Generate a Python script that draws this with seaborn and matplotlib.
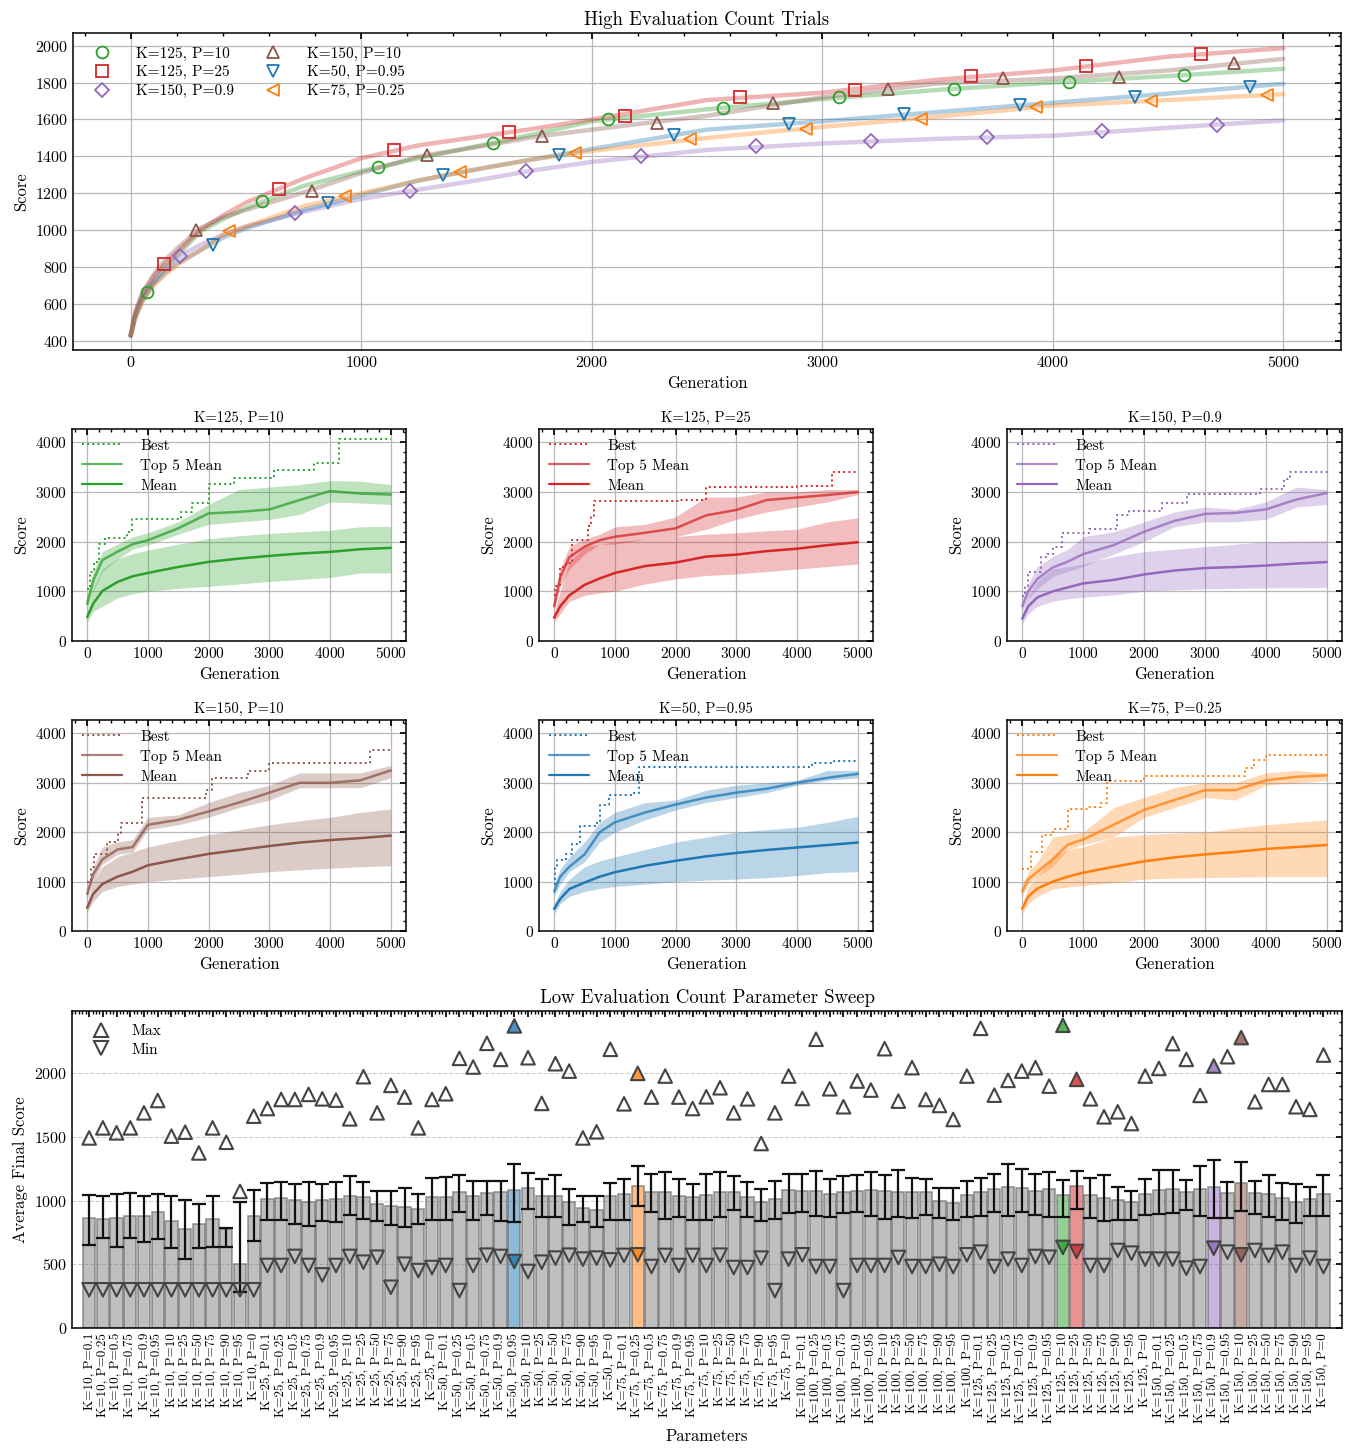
import matplotlib
matplotlib.use("Agg")
import matplotlib.pyplot as plt
import seaborn as sns
from matplotlib.ticker import AutoMinorLocator, MultipleLocator
from matplotlib.colors import to_rgba
from matplotlib.lines import Line2D

# ---------------- six long runs (shared by top panel and the small panels) ----------------
trial_names = ["K=125, P=10", "K=125, P=25", "K=150, P=0.9", "K=150, P=10", "K=50, P=0.95", "K=75, P=0.25"]
trial_colors = ["#2ca02c", "#d62728", "#9467bd", "#8c564b", "#1f77b4", "#ff7f0e"]
trial_markers = ["o", "s", "D", "^", "v", "<"]

# top panel: mean score
gen_grid = [0, 20, 50, 100, 150, 200, 300, 400, 500, 750, 1000, 1250, 1500, 1750, 2000, 2500, 3000, 3500, 4000, 4500, 5000]
curve_k125_p10 = [430, 545, 640, 720, 800, 860, 990, 1060, 1120, 1240, 1320, 1390, 1455, 1520, 1590, 1655, 1710, 1760, 1800, 1835, 1874]
curve_k125_p25 = [430, 550, 650, 750, 820, 880, 1000, 1080, 1150, 1280, 1390, 1460, 1505, 1550, 1600, 1705, 1745, 1815, 1865, 1940, 1986]
curve_k150_p09 = [430, 530, 620, 720, 790, 850, 920, 975, 1020, 1100, 1170, 1220, 1270, 1325, 1370, 1435, 1470, 1495, 1512, 1555, 1595]
curve_k150_p10 = [430, 560, 660, 760, 840, 900, 1010, 1070, 1110, 1205, 1310, 1400, 1450, 1505, 1545, 1620, 1720, 1795, 1822, 1865, 1928]
curve_k50_p095 = [430, 530, 620, 710, 770, 820, 890, 960, 1010, 1110, 1190, 1270, 1330, 1385, 1440, 1545, 1590, 1640, 1690, 1740, 1793]
curve_k75_p025 = [430, 525, 610, 700, 760, 810, 890, 975, 1020, 1130, 1200, 1270, 1330, 1385, 1430, 1500, 1560, 1615, 1675, 1705, 1737]

mark_gen_k125_p10 = [71, 571, 1071, 1571, 2071, 2571, 3071, 3571, 4071, 4571]
mark_val_k125_p10 = [667, 1157, 1340, 1470, 1604, 1661, 1719, 1766, 1805, 1840]
mark_gen_k125_p25 = [143, 643, 1143, 1643, 2143, 2643, 3143, 3643, 4143, 4643]
mark_val_k125_p25 = [820, 1225, 1436, 1531, 1620, 1724, 1760, 1836, 1890, 1955]
mark_gen_k150_p09 = [213, 713, 1213, 1713, 2213, 2713, 3213, 3713, 4213, 4713]
mark_val_k150_p09 = [863, 1094, 1214, 1319, 1400, 1458, 1485, 1503, 1535, 1571]
mark_gen_k150_p10 = [285, 785, 1285, 1785, 2285, 2785, 3285, 3785, 4285, 4785]
mark_val_k150_p10 = [1004, 1214, 1405, 1508, 1580, 1688, 1764, 1823, 1829, 1908]
mark_gen_k50_p095 = [356, 856, 1356, 1856, 2356, 2856, 3356, 3856, 4356, 4856]
mark_val_k50_p095 = [922, 1148, 1301, 1409, 1517, 1577, 1627, 1679, 1721, 1773]
mark_gen_k75_p025 = [428, 928, 1428, 1928, 2428, 2928, 3428, 3928, 4428, 4928]
mark_val_k75_p025 = [995, 1187, 1313, 1418, 1494, 1548, 1604, 1670, 1701, 1733]

top_curves = [curve_k125_p10, curve_k125_p25, curve_k150_p09, curve_k150_p10, curve_k50_p095, curve_k75_p025]
top_mark_gens = [mark_gen_k125_p10, mark_gen_k125_p25, mark_gen_k150_p09, mark_gen_k150_p10, mark_gen_k50_p095, mark_gen_k75_p025]
top_mark_vals = [mark_val_k125_p10, mark_val_k125_p25, mark_val_k150_p09, mark_val_k150_p10, mark_val_k50_p095, mark_val_k75_p025]

# small panels: best (step), top-5 mean and mean with their spread
panel_gen = [0, 100, 250, 500, 750, 1000, 1500, 2000, 2500, 3000, 3500, 4000, 4500, 5000]
best_gens = [
    [0, 50, 110, 190, 300, 650, 740, 1550, 1730, 2000, 2420, 3070, 3730, 4140, 5000],
    [0, 20, 100, 200, 300, 550, 600, 660, 2050, 2500, 4000, 4580, 5000],
    [0, 50, 100, 300, 400, 500, 650, 1100, 1550, 1750, 2300, 2700, 3900, 4300, 4400, 5000],
    [0, 60, 120, 330, 500, 550, 900, 1950, 2050, 2650, 3000, 4650, 5000],
    [0, 20, 50, 200, 300, 420, 700, 750, 900, 1300, 1400, 4250, 4600, 5000],
    [0, 100, 150, 330, 500, 750, 1100, 1300, 1400, 2000, 3650, 3800, 4000, 5000],
]
best_vals = [
    [1050, 1390, 1590, 1960, 2080, 2200, 2450, 2600, 2770, 3160, 3290, 3440, 3590, 4070, 4070],
    [920, 1100, 1490, 1570, 2030, 2310, 2500, 2820, 2850, 3110, 3130, 3410, 3410],
    [900, 1100, 1390, 1690, 1760, 1900, 2180, 2250, 2530, 2620, 2780, 2960, 3060, 3260, 3400, 3420],
    [1000, 1300, 1560, 1800, 1960, 2180, 2700, 2850, 3090, 3230, 3390, 3660, 3660],
    [950, 1300, 1430, 1550, 1760, 2120, 2200, 2550, 2750, 2800, 3310, 3390, 3440, 3440],
    [1250, 1300, 1590, 1950, 2060, 2460, 2500, 2600, 3030, 3130, 3300, 3460, 3560, 3560],
]
top5_mean = [
    [750, 1220, 1630, 1800, 1950, 2030, 2270, 2570, 2600, 2650, 2840, 3020, 2970, 2950],
    [700, 1290, 1690, 1900, 2030, 2100, 2180, 2270, 2530, 2640, 2840, 2890, 2940, 3000],
    [700, 1000, 1250, 1480, 1600, 1750, 1930, 2200, 2420, 2560, 2580, 2650, 2850, 2980],
    [750, 1150, 1450, 1650, 1700, 2150, 2250, 2420, 2600, 2800, 3000, 3000, 3050, 3250],
    [800, 1100, 1300, 1550, 2000, 2200, 2400, 2560, 2700, 2800, 2880, 3000, 3100, 3180],
    [800, 1050, 1200, 1450, 1750, 1850, 2150, 2450, 2650, 2850, 2850, 3050, 3120, 3150],
]
top5_low = [
    [650, 1000, 1400, 1650, 1850, 1930, 2150, 2350, 2400, 2450, 2550, 2800, 2780, 2750],
    [600, 1100, 1450, 1750, 1950, 1950, 2050, 2100, 2250, 2450, 2600, 2700, 2800, 2950],
    [600, 850, 1050, 1300, 1400, 1500, 1750, 2000, 2300, 2400, 2400, 2450, 2700, 2750],
    [650, 1000, 1350, 1550, 1600, 2050, 2150, 2300, 2500, 2650, 2900, 2900, 2900, 3100],
    [700, 950, 1200, 1400, 1800, 2000, 2250, 2450, 2600, 2700, 2800, 2950, 3050, 3100],
    [700, 950, 1100, 1300, 1650, 1750, 1900, 2300, 2500, 2700, 2650, 2950, 3000, 3050],
]
top5_high = [
    [900, 1400, 1800, 1950, 2100, 2180, 2400, 2750, 3050, 3100, 3150, 3230, 3220, 3150],
    [850, 1450, 1900, 2050, 2150, 2300, 2350, 2500, 2900, 2900, 3000, 3000, 3050, 3050],
    [850, 1150, 1500, 1700, 1850, 2100, 2200, 2400, 2600, 2700, 2650, 2800, 3100, 3050],
    [900, 1300, 1700, 1800, 1850, 2300, 2350, 2600, 2800, 2950, 3200, 3200, 3200, 3350],
    [950, 1250, 1500, 1800, 2200, 2400, 2600, 2650, 2850, 2950, 3000, 3050, 3250, 3250],
    [950, 1200, 1400, 1900, 1950, 2000, 2500, 2700, 2900, 3000, 3000, 3200, 3250, 3200],
]
pop_mean = [
    [484, 753, 1008, 1190, 1304, 1371, 1492, 1593, 1660, 1714, 1761, 1795, 1849, 1876],
    [470, 700, 920, 1130, 1260, 1370, 1510, 1580, 1700, 1740, 1810, 1860, 1930, 1990],
    [450, 700, 880, 1000, 1080, 1160, 1230, 1340, 1420, 1470, 1490, 1520, 1560, 1590],
    [470, 750, 950, 1100, 1200, 1330, 1450, 1560, 1640, 1720, 1790, 1840, 1880, 1930],
    [450, 650, 850, 980, 1100, 1190, 1320, 1420, 1510, 1580, 1640, 1690, 1740, 1790],
    [450, 700, 860, 1000, 1100, 1180, 1300, 1410, 1490, 1550, 1600, 1660, 1700, 1740],
]
pop_low = [
    [380, 600, 700, 870, 950, 1000, 1060, 1100, 1150, 1200, 1240, 1280, 1370, 1370],
    [380, 550, 800, 920, 970, 1000, 1150, 1250, 1320, 1350, 1400, 1450, 1500, 1550],
    [350, 550, 700, 800, 850, 880, 930, 1000, 1030, 1050, 1060, 1070, 1075, 1080],
    [380, 600, 800, 900, 950, 1000, 1050, 1100, 1150, 1200, 1240, 1270, 1300, 1320],
    [350, 550, 700, 800, 860, 900, 950, 1000, 1030, 1050, 1080, 1120, 1180, 1200],
    [350, 550, 700, 850, 890, 920, 980, 1050, 1070, 1080, 1090, 1100, 1100, 1100],
]
pop_high = [
    [600, 1050, 1450, 1660, 1760, 1830, 1950, 2060, 2120, 2165, 2200, 2230, 2300, 2310],
    [560, 1000, 1600, 1900, 1950, 2000, 2050, 2100, 2150, 2180, 2220, 2250, 2400, 2480],
    [550, 900, 1200, 1450, 1500, 1550, 1700, 1800, 1850, 1900, 1950, 2000, 2010, 2020],
    [580, 1000, 1300, 1500, 1600, 1700, 1830, 1950, 2050, 2150, 2230, 2300, 2400, 2470],
    [550, 800, 1050, 1300, 1420, 1500, 1650, 1800, 1900, 2000, 2050, 2100, 2200, 2320],
    [550, 900, 1100, 1500, 1650, 1700, 1900, 1950, 1980, 2000, 2080, 2150, 2200, 2250],
]

# ---------------- low evaluation count sweep ----------------
sweep_k = [10, 25, 50, 75, 100, 125, 150]
sweep_p = ["0.1", "0.25", "0.5", "0.75", "0.9", "0.95", "10", "25", "50", "75", "90", "95", "0"]
sweep_mean = [861, 853, 861, 882, 877, 911, 837, 780, 816, 853, 780, 501, 882,
              1016, 1021, 1008, 992, 1008, 1016, 1034, 1026, 974, 961, 950, 934, 1026,
              1031, 1068, 1034, 1060, 1066, 1084, 1100, 1034, 1034, 990, 942, 927, 1034,
              1055, 1113, 1068, 1068, 1034, 1026, 1047, 1068, 1068, 1029, 990, 1010, 1081,
              1076, 1079, 1050, 1068, 1079, 1084, 1073, 1071, 1071, 1066, 1000, 982, 1047,
              1071, 1092, 1110, 1097, 1073, 1092, 1047, 1113, 1042, 1024, 1003, 990, 1055,
              1087, 1094, 1066, 1089, 1105, 1060, 1139, 1060, 1055, 1018, 992, 1013, 1055]
sweep_err_low = [654, 706, 640, 709, 675, 703, 627, 541, 630, 638, 640, 286, 682,
                 850, 850, 819, 798, 837, 829, 890, 858, 837, 808, 793, 819, 850,
                 845, 908, 845, 890, 837, 832, 932, 871, 871, 808, 832, 795, 850,
                 850, 955, 911, 858, 871, 850, 850, 871, 924, 871, 843, 858, 903,
                 911, 882, 871, 900, 913, 877, 856, 871, 866, 890, 864, 845, 871,
                 882, 913, 877, 911, 885, 874, 869, 937, 864, 837, 850, 850, 890,
                 892, 900, 924, 877, 864, 864, 916, 895, 871, 850, 822, 882, 882]
sweep_err_high = [1047, 1034, 1052, 1060, 1039, 1052, 1034, 1005, 976, 1039, 785, 987, 1084,
                  1139, 1147, 1131, 1144, 1131, 1147, 1192, 1150, 1079, 1079, 1097, 1055, 1181,
                  1186, 1202, 1152, 1157, 1152, 1286, 1215, 1171, 1202, 1092, 1037, 1037, 1139,
                  1173, 1270, 1213, 1223, 1173, 1134, 1207, 1223, 1192, 1147, 1094, 1157, 1207,
                  1207, 1236, 1171, 1192, 1205, 1223, 1199, 1241, 1176, 1173, 1100, 1097, 1152,
                  1181, 1213, 1289, 1247, 1213, 1228, 1165, 1236, 1181, 1202, 1105, 1079, 1173,
                  1241, 1244, 1165, 1270, 1320, 1150, 1304, 1152, 1202, 1136, 1134, 1105, 1202]
sweep_max = [1493, 1572, 1533, 1572, 1690, 1787, 1507, 1538, 1375, 1572, 1459, 1073, 1664,
             1724, 1795, 1795, 1835, 1800, 1790, 1643, 1974, 1690, 1906, 1814, 1572, 1795,
             1840, 2118, 2050, 2236, 2110, 2373, 2123, 1764, 2076, 2018, 1493, 1541, 2189,
             1761, 2000, 1814, 1979, 1814, 1724, 1816, 1887, 1690, 1800, 1449, 1690, 1979,
             1803, 2268, 1879, 1738, 1940, 1869, 2194, 1782, 2045, 1795, 1748, 1638, 1979,
             2354, 1829, 1945, 2018, 2045, 1900, 2378, 1953, 1800, 1659, 1698, 1606, 1979,
             2039, 2234, 2110, 1827, 2058, 2131, 2281, 1777, 1913, 1913, 1738, 1717, 2144]
sweep_min = [300, 300, 300, 300, 300, 300, 300, 300, 300, 300, 300, 300, 300,
             491, 491, 562, 491, 417, 491, 562, 517, 556, 320, 501, 451, 475,
             491, 294, 491, 572, 562, 522, 444, 517, 549, 572, 541, 549, 535,
             570, 575, 483, 570, 491, 570, 491, 572, 475, 475, 549, 294, 541,
             575, 483, 483, 294, 491, 491, 491, 554, 483, 483, 501, 483, 575,
             596, 483, 541, 491, 562, 556, 633, 601, 491, 491, 609, 588, 541,
             541, 541, 470, 483, 627, 596, 575, 609, 570, 596, 491, 549, 483]

# ---------------- style ----------------
sns.set_theme(style="white")
plt.rcParams["font.family"] = ["cmr10", "DejaVu Serif"]
plt.rcParams["axes.formatter.use_mathtext"] = True
plt.rcParams["mathtext.fontset"] = "cm"
plt.rcParams["axes.unicode_minus"] = False
plt.rcParams.update({
    "xtick.direction": "in", "ytick.direction": "in",
    "xtick.top": True, "ytick.right": True,
    "xtick.major.size": 4, "ytick.major.size": 4,
    "xtick.minor.size": 2, "ytick.minor.size": 2,
    "xtick.minor.visible": True, "ytick.minor.visible": True,
    "axes.edgecolor": "black", "axes.linewidth": 1.1,
    "xtick.color": "black", "ytick.color": "black",
    "axes.labelcolor": "black", "text.color": "black",
})

W, H = 1356, 1454
fig = plt.figure(figsize=(W / 100, H / 100), dpi=100)


def box(l, t, r, b):
    return [l / W, 1 - b / H, (r - l) / W, (b - t) / H]


def gridify(ax):
    ax.grid(True, color="#b8b8b8", lw=0.9)
    ax.set_axisbelow(True)


# ---- top panel ----
ax = fig.add_axes(box(73, 33, 1341, 350))
gridify(ax)
for i in range(6):
    sns.lineplot(x=gen_grid, y=top_curves[i], ax=ax, color=trial_colors[i], alpha=0.35, lw=3.2)
for i in range(6):
    ax.plot(top_mark_gens[i], top_mark_vals[i], ls="none", marker=trial_markers[i], mfc="none",
            mec=trial_colors[i], mew=1.3, ms=8.5 if trial_markers[i] != "D" else 7.5, label=trial_names[i])
ax.set_xlim(-250, 5250)
ax.set_ylim(352, 2068)
ax.xaxis.set_major_locator(MultipleLocator(1000))
ax.yaxis.set_major_locator(MultipleLocator(200))
ax.xaxis.set_minor_locator(AutoMinorLocator(5))
ax.yaxis.set_minor_locator(AutoMinorLocator(4))
ax.tick_params(labelsize=11.5)
ax.set_xlabel("Generation", fontsize=12)
ax.set_ylabel("Score", fontsize=12)
ax.set_title("High Evaluation Count Trials", fontsize=13.5, pad=6)
ax.legend(ncol=2, loc="upper left", frameon=False, fontsize=11, handletextpad=1.2,
          columnspacing=1.6, labelspacing=0.3, borderaxespad=0.5)

# ---- six small panels ----
panel_boxes = [
    box(72, 429, 406, 641), box(539, 429, 873, 641), box(1007, 429, 1342, 641),
    box(72, 720, 406, 931), box(539, 720, 873, 931), box(1007, 720, 1342, 931),
]
for i in range(6):
    ax = fig.add_axes(panel_boxes[i])
    gridify(ax)
    c = trial_colors[i]
    ax.fill_between(panel_gen, top5_low[i], top5_high[i], color=c, alpha=0.3, lw=0)
    ax.fill_between(panel_gen, pop_low[i], pop_high[i], color=c, alpha=0.3, lw=0)
    ax.step(best_gens[i], best_vals[i], where="post", color=c, ls=":", lw=1.4)
    sns.lineplot(x=panel_gen, y=top5_mean[i], ax=ax, color=c, alpha=0.75, lw=1.8)
    sns.lineplot(x=panel_gen, y=pop_mean[i], ax=ax, color=c, lw=1.8)
    handles = [Line2D([], [], color=c, ls=":", lw=1.4),
               Line2D([], [], color=c, alpha=0.75, lw=1.6),
               Line2D([], [], color=c, lw=1.6)]
    ax.legend(handles, ["Best", "Top 5 Mean", "Mean"], loc="upper left", frameon=False,
              fontsize=11, handlelength=2.6, handletextpad=1.2, labelspacing=0.4, borderaxespad=0.25)
    ax.set_xlim(-250, 5250)
    ax.set_ylim(0, 4270)
    ax.xaxis.set_major_locator(MultipleLocator(1000))
    ax.yaxis.set_major_locator(MultipleLocator(1000))
    ax.xaxis.set_minor_locator(AutoMinorLocator(5))
    ax.yaxis.set_minor_locator(AutoMinorLocator(5))
    ax.tick_params(labelsize=11)
    ax.set_xlabel("Generation", fontsize=12)
    ax.set_ylabel("Score", fontsize=12)
    ax.set_title(trial_names[i], fontsize=10.5, pad=5)

# ---- parameter sweep ----
labels = [f"K={k}, P={p}" for k in sweep_k for p in sweep_p]
highlight = {"K=50, P=0.95": trial_colors[4], "K=75, P=0.25": trial_colors[5],
             "K=125, P=10": trial_colors[0], "K=125, P=25": trial_colors[1],
             "K=150, P=0.9": trial_colors[2], "K=150, P=10": trial_colors[3]}

ax = fig.add_axes(box(72, 1011, 1342, 1328))
ax.yaxis.grid(True, color="#cccccc", ls="--", lw=0.8)
ax.set_axisbelow(True)
sns.barplot(x=labels, y=sweep_mean, ax=ax, color="gray", errorbar=None, width=0.9, saturation=1)
for lab, patch in zip(labels, ax.patches):
    face = highlight.get(lab, "#808080")
    patch.set_facecolor(to_rgba(face, 0.5))
    patch.set_edgecolor(to_rgba("#707070", 0.7))
    patch.set_linewidth(1.2)
xs = list(range(len(labels)))
yerr = [[m - lo for m, lo in zip(sweep_mean, sweep_err_low)],
        [hi - m for m, hi in zip(sweep_mean, sweep_err_high)]]
ax.errorbar(xs, sweep_mean, yerr=yerr, fmt="none", ecolor="#111111", elinewidth=1.6, capsize=5, capthick=1.6)
max_face = [to_rgba(highlight[l], 0.8) if l in highlight else "none" for l in labels]
ax.scatter(xs, sweep_max, marker="^", s=95, facecolors=max_face, edgecolors="#444444", linewidths=1.5, zorder=4)
ax.scatter(xs, sweep_min, marker="v", s=95, facecolors=max_face, edgecolors="#444444", linewidths=1.5, zorder=4)
ax.set_xlim(-1.25, 91.35)
ax.set_ylim(0, 2490)
ax.yaxis.set_major_locator(MultipleLocator(500))
ax.yaxis.set_minor_locator(AutoMinorLocator(5))
ax.xaxis.set_minor_locator(AutoMinorLocator(4))
ax.set_xticks(xs)
ax.set_xticklabels(labels, rotation=90, fontsize=9.5)
ax.tick_params(axis="y", labelsize=11.5)
ax.set_xlabel("Parameters", fontsize=12)
ax.set_ylabel("Average Final Score", fontsize=12)
ax.set_title("Low Evaluation Count Parameter Sweep", fontsize=13.5, pad=6)
leg_handles = [Line2D([], [], ls="none", marker="^", mfc="none", mec="#444444", mew=1.5, ms=10),
               Line2D([], [], ls="none", marker="v", mfc="none", mec="#444444", mew=1.5, ms=10)]
ax.legend(leg_handles, ["Max", "Min"], loc="upper left", frameon=False, fontsize=11,
          handletextpad=1.0, labelspacing=0.3)

fig.savefig("out.png", dpi=100)
